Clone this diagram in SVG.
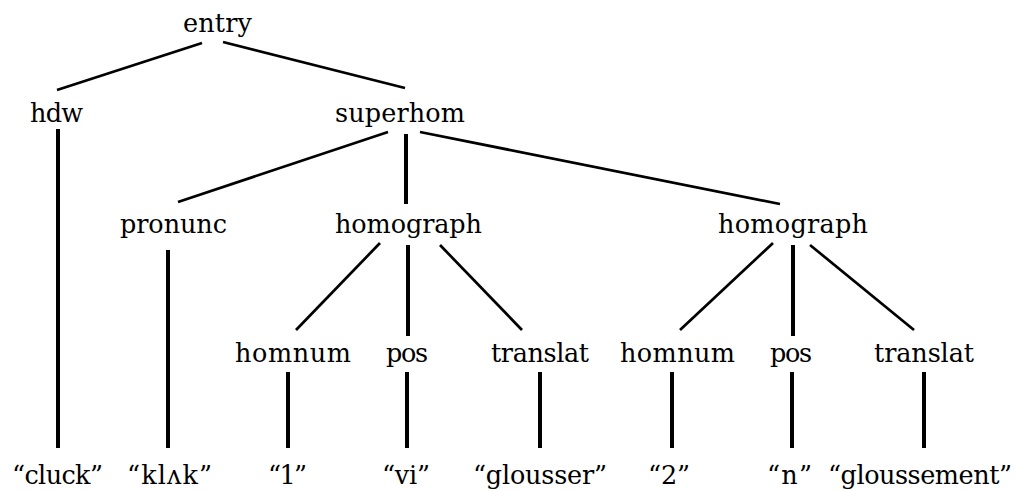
<svg xmlns="http://www.w3.org/2000/svg" width="1016" height="491" viewBox="0 0 1016 491">
<style>
text{font-family:'DejaVu Serif','Liberation Serif',serif;font-size:25.5px;fill:#000;text-anchor:middle}
.e line{stroke:#000;stroke-linecap:butt}
.d{stroke-width:2.7}
.v{stroke-width:4}
</style>
<rect width="1016" height="491" fill="#fff"/>
<g class="e" id="connectors">
<line class="d" x1="202" y1="43" x2="57" y2="90"/>
<line class="d" x1="223" y1="42" x2="405" y2="88"/>
<line class="v" x1="58" y1="129" x2="58" y2="448"/>
<line class="d" x1="388" y1="132" x2="178" y2="202"/>
<line class="v" x1="406" y1="134" x2="406" y2="204"/>
<line class="d" x1="420" y1="132" x2="780" y2="204"/>
<line class="v" x1="168" y1="250" x2="168" y2="448"/>
<line class="d" x1="380" y1="243" x2="296" y2="330"/>
<line class="v" x1="408" y1="245" x2="408" y2="336"/>
<line class="d" x1="440" y1="245" x2="522" y2="330"/>
<line class="d" x1="773" y1="243" x2="680" y2="330"/>
<line class="v" x1="793" y1="245" x2="793" y2="336"/>
<line class="d" x1="810" y1="245" x2="914" y2="330"/>
<line class="v" x1="288" y1="372" x2="288" y2="448"/>
<line class="v" x1="407" y1="372" x2="407" y2="448"/>
<line class="v" x1="540" y1="372" x2="540" y2="448"/>
<line class="v" x1="672" y1="372" x2="672" y2="448"/>
<line class="v" x1="792" y1="372" x2="792" y2="448"/>
<line class="v" x1="924" y1="372" x2="924" y2="448"/>
</g>
<g id="entry"><text x="217.5" y="32" textLength="69" lengthAdjust="spacing">entry</text></g>
<g id="hdw"><text x="56.5" y="122" textLength="53" lengthAdjust="spacing">hdw</text></g>
<g id="superhom"><text x="400" y="122" textLength="130" lengthAdjust="spacing">superhom</text></g>
<g id="pronunc"><text x="173.5" y="233" textLength="107" lengthAdjust="spacing">pronunc</text></g>
<g id="homograph1"><text x="408.5" y="233" textLength="147" lengthAdjust="spacing">homograph</text></g>
<g id="homograph2"><text x="793" y="233" textLength="150" lengthAdjust="spacing">homograph</text></g>
<g id="homnum1"><text x="293" y="362" textLength="116" lengthAdjust="spacing">homnum</text></g>
<g id="pos1"><text x="407" y="362" textLength="42" lengthAdjust="spacing">pos</text></g>
<g id="translat1"><text x="540" y="362" textLength="98" lengthAdjust="spacing">translat</text></g>
<g id="homnum2"><text x="677.5" y="362" textLength="115" lengthAdjust="spacing">homnum</text></g>
<g id="pos2"><text x="791" y="362" textLength="42" lengthAdjust="spacing">pos</text></g>
<g id="translat2"><text x="924" y="362" textLength="100" lengthAdjust="spacing">translat</text></g>
<g id="cluck"><text x="57.5" y="484" textLength="91" lengthAdjust="spacing">“cluck”</text></g>
<g id="klak"><text x="169.5" y="484" textLength="85" lengthAdjust="spacing">“klʌk”</text></g>
<g id="v1"><text x="287.5" y="484" textLength="39" lengthAdjust="spacing">“1”</text></g>
<g id="vi"><text x="406" y="484" textLength="48" lengthAdjust="spacing">“vi”</text></g>
<g id="glousser"><text x="540" y="484" textLength="134" lengthAdjust="spacing">“glousser”</text></g>
<g id="v2"><text x="669" y="484" textLength="42" lengthAdjust="spacing">“2”</text></g>
<g id="n"><text x="789.5" y="484" textLength="45" lengthAdjust="spacing">“n”</text></g>
<g id="gloussement"><text x="920" y="484" textLength="184" lengthAdjust="spacing">“gloussement”</text></g>
</svg>
